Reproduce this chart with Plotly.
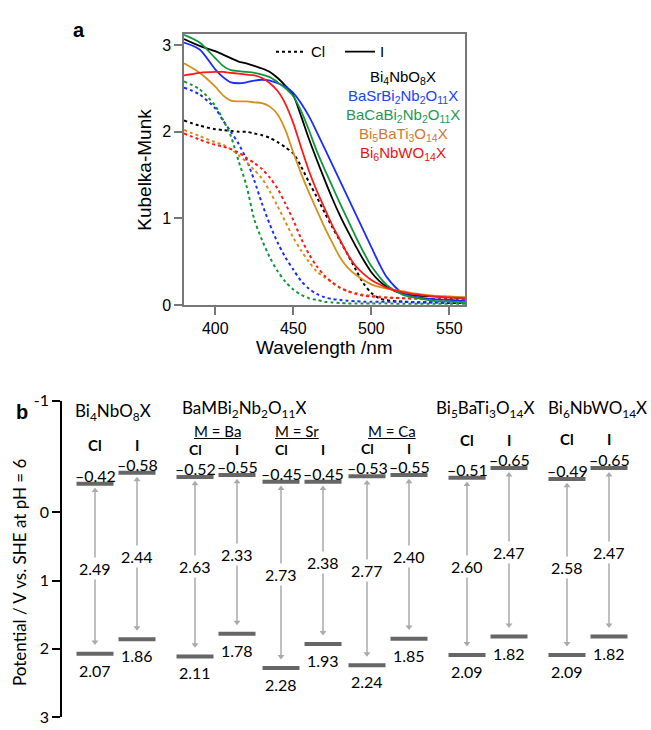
import plotly.graph_objects as go

W, H = 651, 730

# ---------------- Panel a data (Kubelka-Munk spectra) ----------------
wavelength = [380, 390, 400, 405, 410, 415, 420, 425, 430, 435, 440, 445, 450, 455, 460,
              465, 470, 475, 480, 485, 490, 495, 500, 505, 510, 520, 530, 540, 550, 560]

bi4_cl = [2.13, 2.07, 2.03, 2.02, 2.01, 2.00, 2.00, 1.98, 1.96, 1.93, 1.88, 1.82, 1.75, 1.60, 1.42,
          1.25, 1.07, 0.90, 0.74, 0.58, 0.41, 0.25, 0.14, 0.08, 0.055, 0.04, 0.03, 0.03, 0.025, 0.025]
bi4_i = [3.07, 2.99, 2.93, 2.89, 2.85, 2.81, 2.79, 2.76, 2.73, 2.69, 2.62, 2.53, 2.42, 2.18, 1.92,
         1.68, 1.45, 1.23, 1.03, 0.85, 0.68, 0.52, 0.38, 0.28, 0.21, 0.13, 0.11, 0.10, 0.09, 0.085]
basr_cl = [2.51, 2.43, 2.27, 2.13, 2.00, 1.86, 1.68, 1.44, 1.17, 0.93, 0.72, 0.55, 0.41, 0.28, 0.19,
           0.13, 0.09, 0.07, 0.06, 0.05, 0.045, 0.04, 0.04, 0.04, 0.04, 0.04, 0.035, 0.035, 0.035, 0.035]
basr_i = [3.03, 2.95, 2.72, 2.63, 2.57, 2.56, 2.57, 2.59, 2.60, 2.59, 2.56, 2.52, 2.45, 2.33, 2.18,
          2.00, 1.81, 1.62, 1.43, 1.24, 1.05, 0.86, 0.67, 0.48, 0.32, 0.14, 0.09, 0.07, 0.06, 0.05]
baca_cl = [2.58, 2.49, 2.30, 2.14, 1.95, 1.66, 1.38, 0.99, 0.75, 0.55, 0.39, 0.27, 0.18, 0.12, 0.08,
           0.06, 0.04, 0.03, 0.025, 0.02, 0.02, 0.02, 0.02, 0.02, 0.02, 0.015, 0.015, 0.015, 0.015, 0.015]
baca_i = [3.12, 3.03, 2.85, 2.76, 2.71, 2.70, 2.69, 2.68, 2.66, 2.63, 2.57, 2.50, 2.41, 2.24, 2.02,
          1.78, 1.57, 1.37, 1.17, 0.98, 0.79, 0.61, 0.45, 0.33, 0.23, 0.12, 0.08, 0.05, 0.04, 0.03]
bi5_cl = [2.02, 1.95, 1.88, 1.85, 1.80, 1.73, 1.65, 1.56, 1.46, 1.31, 1.14, 0.96, 0.78, 0.63, 0.50,
          0.39, 0.32, 0.26, 0.20, 0.16, 0.14, 0.12, 0.11, 0.10, 0.09, 0.08, 0.07, 0.065, 0.06, 0.06]
bi5_i = [2.79, 2.68, 2.52, 2.42, 2.36, 2.35, 2.35, 2.34, 2.33, 2.29, 2.20, 2.02, 1.76, 1.52, 1.30,
         1.10, 0.90, 0.72, 0.55, 0.43, 0.35, 0.29, 0.24, 0.21, 0.19, 0.16, 0.13, 0.11, 0.10, 0.09]
bi6_cl = [1.98, 1.91, 1.85, 1.83, 1.80, 1.76, 1.70, 1.64, 1.57, 1.47, 1.34, 1.17, 0.98, 0.77, 0.59,
          0.45, 0.34, 0.26, 0.20, 0.16, 0.13, 0.11, 0.10, 0.09, 0.085, 0.08, 0.075, 0.07, 0.07, 0.065]
bi6_i = [2.65, 2.68, 2.69, 2.69, 2.68, 2.67, 2.66, 2.65, 2.62, 2.56, 2.47, 2.32, 2.10, 1.82, 1.55,
         1.32, 1.12, 0.92, 0.75, 0.58, 0.45, 0.36, 0.29, 0.24, 0.20, 0.15, 0.12, 0.10, 0.09, 0.08]

compound_names = ["Bi<sub>4</sub>NbO<sub>8</sub>X",
                  "BaSrBi<sub>2</sub>Nb<sub>2</sub>O<sub>11</sub>X",
                  "BaCaBi<sub>2</sub>Nb<sub>2</sub>O<sub>11</sub>X",
                  "Bi<sub>5</sub>BaTi<sub>3</sub>O<sub>14</sub>X",
                  "Bi<sub>6</sub>NbWO<sub>14</sub>X"]
line_colors = ["#000000", "#1a2cff", "#12963a", "#d4901c", "#ff1a1a"]
label_colors = ["#000000", "#2040ff", "#1a9a55", "#cc7a33", "#ee1111"]
cl_series = [bi4_cl, basr_cl, baca_cl, bi5_cl, bi6_cl]
i_series = [bi4_i, basr_i, baca_i, bi5_i, bi6_i]

# ---------------- Panel b data (band positions) ----------------
group_titles = ["Bi<sub>4</sub>NbO<sub>8</sub>X", "M = Ba", "M = Sr", "M = Ca",
                "Bi<sub>5</sub>BaTi<sub>3</sub>O<sub>14</sub>X", "Bi<sub>6</sub>NbWO<sub>14</sub>X"]
cb_cl = [-0.42, -0.52, -0.45, -0.53, -0.51, -0.49]
cb_i = [-0.58, -0.55, -0.45, -0.55, -0.65, -0.65]
vb_cl = [2.07, 2.11, 2.28, 2.24, 2.09, 2.09]
vb_i = [1.86, 1.78, 1.93, 1.85, 1.82, 1.82]
gap_cl = [2.49, 2.63, 2.73, 2.77, 2.60, 2.58]
gap_i = [2.44, 2.33, 2.38, 2.40, 2.47, 2.47]
ytick_labels = ["-1", "0", "1", "2", "3"]

# ---------------- layout helpers ----------------
def pxf(x):
    return x / W

def pyf(y):
    return 1 - y / H

ARIAL = "Liberation Sans, Arial, sans-serif"
CAL = "Lato, Carlito, Calibri, sans-serif"

def text_ann(x, y, text, size, color="black", family=None, xref="paper", yref="paper",
             xanchor="center", yanchor="middle", **kw):
    d = dict(x=x, y=y, xref=xref, yref=yref, text=text, showarrow=False,
             xanchor=xanchor, yanchor=yanchor,
             font=dict(family=family or CAL, size=size, color=color))
    d.update(kw)
    return d

fig = go.Figure()

# Panel a traces
for k in range(5):
    fig.add_trace(go.Scatter(
        x=wavelength, y=cl_series[k], mode="lines",
        line=dict(color=line_colors[k], width=2, dash="dot", shape="spline", smoothing=0.8),
        name="Cl", showlegend=(k == 0), xaxis="x", yaxis="y", hoverinfo="skip"))
for k in range(5):
    fig.add_trace(go.Scatter(
        x=wavelength, y=i_series[k], mode="lines",
        line=dict(color=line_colors[k], width=1.8, shape="spline", smoothing=0.8),
        name="I", showlegend=(k == 0), xaxis="x", yaxis="y", hoverinfo="skip"))

# Panel b layout positions (pixel-based x axis)
centers = [116]
steps = [100, 86, 86, 100, 100]
for s in steps:
    centers.append(centers[-1] + s)
HALF_SEP = 21
HALF_BAR = 18.5
PAD_TOP, PAD_BOT = 0.10, 0.17
TOP = -1.64
header_y = [446, 451, 451, 450, 441, 440]
header_size = [15, 14, 14, 14, 15, 15]

levels = []
for g, c in enumerate(centers):
    levels.append((c - HALF_SEP, cb_cl[g], vb_cl[g], gap_cl[g], "Cl", g))
    levels.append((c + HALF_SEP, cb_i[g], vb_i[g], gap_i[g], "I", g))

# arrows (line + triangle heads) drawn as a trace
ax_, ay_, sym = [], [], []
for xc, cb, vb, gp, lab, g in levels:
    ax_ += [xc, xc, None]
    ay_ += [cb + PAD_TOP, vb - PAD_BOT, None]
    sym += ["triangle-up", "triangle-down", "circle"]
fig.add_trace(go.Scatter(x=ax_, y=ay_, mode="lines+markers",
                         line=dict(color="#aaaaaa", width=1.5),
                         marker=dict(symbol=sym, size=6, color="#aaaaaa"),
                         showlegend=False, xaxis="x2", yaxis="y2", hoverinfo="skip"))

# level bars
bx, by = [], []
for xc, cb, vb, gp, lab, g in levels:
    for v in (cb, vb):
        bx += [xc - HALF_BAR, xc + HALF_BAR, None]
        by += [v, v, None]
fig.add_trace(go.Scatter(x=bx, y=by, mode="lines", line=dict(color="#666666", width=4),
                         showlegend=False, xaxis="x2", yaxis="y2", hoverinfo="skip"))

ann = []
for xc, cb, vb, gp, lab, g in levels:
    ann.append(text_ann(xc, (cb + vb) / 2, f"{gp:.2f}", 16, xref="x2", yref="y2",
                        bgcolor="white", borderpad=1))
    ann.append(text_ann(xc, cb, f"\u2013{abs(cb):.2f}", 16, xref="x2", yref="y2",
                        yanchor="bottom", yshift=-1, height=18, borderpad=0))
    ann.append(text_ann(xc, vb, f"{vb:.2f}", 16, xref="x2", yref="y2",
                        yanchor="top", yshift=-5))
    ann.append(text_ann(xc, pyf(header_y[g]), f"<b>{lab}</b>", header_size[g], xref="x2",
                        height=15, borderpad=0))

# group headings
head_pos = [(113, 413), (217, 432.5), (297, 432.5), (392, 432), (485, 410), (600, 410)]
for t, (hx, hy) in zip(group_titles, head_pos):
    if t.startswith("M"):
        ann.append(text_ann(hx, pyf(hy), f"<u>{t}</u>", 15, xref="x2", height=16, borderpad=0))
    elif t.startswith("Bi<sub>6"):
        ann.append(text_ann(649, pyf(hy), t, 17, xref="x2", xanchor="right"))
    else:
        ann.append(text_ann(hx, pyf(hy), t, 17, xref="x2"))
ann.append(text_ann(181, pyf(410), "BaMBi<sub>2</sub>Nb<sub>2</sub>O<sub>11</sub>X", 17,
                    xref="x2", xanchor="left", height=20, borderpad=0))
ann.append(text_ann(pxf(22), pyf(413), "<b>b</b>", 20, family=ARIAL))
ann.append(text_ann(pxf(20), pyf(577), "Potential / V vs. SHE at pH = 6", 17, textangle=-90))

# panel a texts
ann.append(text_ann(pxf(79), pyf(21), "<b>a</b>", 20, family=ARIAL))
ann.append(text_ann(pxf(145), pyf(164), "Kubelka-Munk", 19, family=ARIAL, textangle=-90))
ann.append(text_ann(pxf(324), pyf(347), "Wavelength /nm", 19, family=ARIAL))
for k, (nm, col) in enumerate(zip(compound_names, label_colors)):
    ann.append(text_ann(pxf(403), pyf(69 + 19.7 * k), nm, 15, color=col, family=ARIAL))

axis_a = dict(showline=True, linecolor="#777777", linewidth=1.5, mirror=True, ticks="outside",
              ticklen=8, tickwidth=1.5, tickcolor="#777777", showgrid=False, zeroline=False,
              tickfont=dict(family=ARIAL, size=16, color="black"))

fig.update_layout(
    width=W, height=H, margin=dict(l=0, r=0, t=0, b=0),
    paper_bgcolor="white", plot_bgcolor="white",
    xaxis=dict(domain=[pxf(184), pxf(465)], range=[380, 560], tickvals=[400, 450, 500, 550],
               anchor="y", **axis_a),
    yaxis=dict(domain=[pyf(303), pyf(25)], range=[0, 3.124], tickvals=[0, 1, 2, 3],
               anchor="x", **axis_a),
    xaxis2=dict(domain=[pxf(62), 1], range=[62, 651], visible=False, anchor="y2"),
    yaxis2=dict(domain=[pyf(726), pyf(401)], range=[3, TOP], anchor="x2",
                tickvals=[TOP, 0, 1, 2, 3], ticktext=ytick_labels, showline=True,
                linecolor="black", linewidth=1.5, ticks="outside", ticklen=8, tickwidth=1.5,
                tickcolor="black", showgrid=False, zeroline=False,
                tickfont=dict(family=CAL, size=16, color="black")),
    legend=dict(orientation="h", x=pxf(271), y=pyf(43), xanchor="left", yanchor="middle",
                font=dict(family=ARIAL, size=15, color="black"), bgcolor="rgba(0,0,0,0)",
                entrywidth=24, itemwidth=30, tracegroupgap=0),
    annotations=ann,
)

fig.write_html("out.html", config={"displayModeBar": False},
               post_script="document.body.style.margin='0';document.body.style.overflow='hidden';")
